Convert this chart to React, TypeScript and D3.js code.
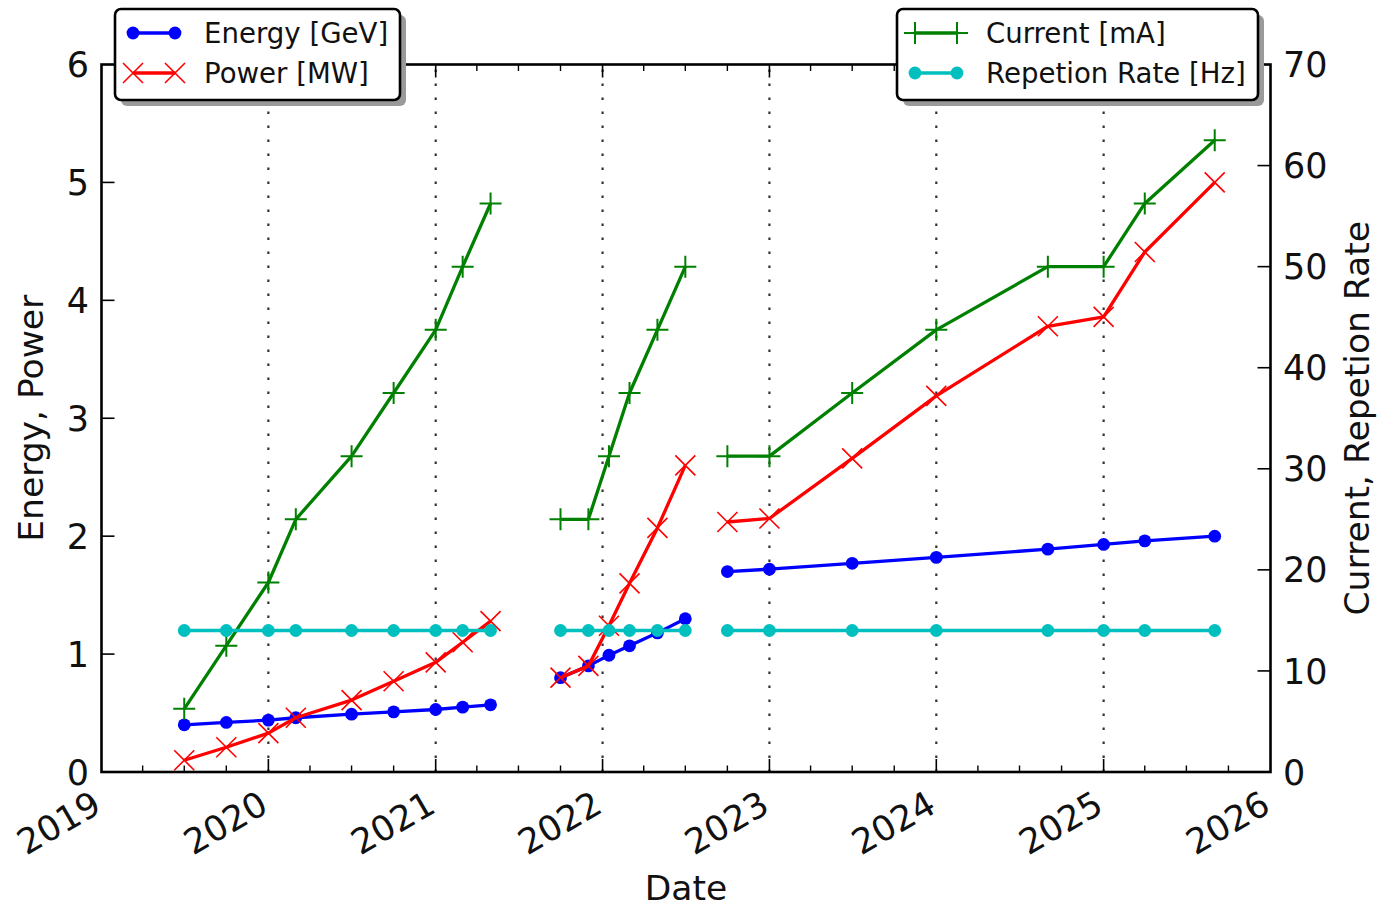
import React, { useEffect, useRef } from 'react';
import * as d3 from 'd3';

// three commissioning phases, separated by gaps in the plot
const phase1Dates = ['2019-07-01', '2019-10-01', '2020-01-01', '2020-03-01', '2020-07-01', '2020-10-01', '2021-01-01', '2021-03-01', '2021-05-01'];
const phase1Energy = [0.4, 0.42, 0.44, 0.46, 0.49, 0.51, 0.53, 0.55, 0.57];
const phase1Power = [0.1, 0.21, 0.33, 0.46, 0.61, 0.77, 0.93, 1.1, 1.28];
const phase1Current = [6.25, 12.5, 18.75, 25, 31.25, 37.5, 43.75, 50, 56.25];
const phase1Rate = [14, 14, 14, 14, 14, 14, 14, 14, 14];

const phase2Dates = ['2021-10-01', '2021-12-01', '2022-01-15', '2022-03-01', '2022-05-01', '2022-07-01'];
const phase2Energy = [0.8, 0.9, 0.99, 1.07, 1.18, 1.3];
const phase2Power = [0.8, 0.9, 1.24, 1.6, 2.07, 2.6];
const phase2Current = [25, 25, 31.25, 37.5, 43.75, 50];
const phase2Rate = [14, 14, 14, 14, 14, 14];

const phase3Dates = ['2022-10-01', '2023-01-01', '2023-07-01', '2024-01-01', '2024-09-01', '2025-01-01', '2025-04-01', '2025-09-01'];
const phase3Energy = [1.7, 1.72, 1.77, 1.82, 1.89, 1.93, 1.96, 2.0];
const phase3Power = [2.12, 2.15, 2.66, 3.19, 3.78, 3.86, 4.41, 5.0];
const phase3Current = [31.25, 31.25, 37.5, 43.75, 50, 50, 56.25, 62.5];
const phase3Rate = [14, 14, 14, 14, 14, 14, 14, 14];

const leftTicks = [0, 1, 2, 3, 4, 5, 6];
const rightTicks = [0, 10, 20, 30, 40, 50, 60, 70];

const FONT = '"DejaVu Sans", sans-serif';
const INK = '#111';

const App: React.FC = () => {
  const svgRef = useRef<SVGSVGElement>(null);

  useEffect(() => {
    document.body.style.margin = '0';
    if (!svgRef.current) return;
    const svg = d3.select(svgRef.current);
    svg.selectAll('*').remove();

    const left = 101.5, right = 1270.5, top = 64.5, bottom = 772;
    const parse = d3.utcParse('%Y-%m-%d');

    const x = d3.scaleUtc()
      .domain([new Date(Date.UTC(2019, 0, 1)), new Date(Date.UTC(2026, 0, 1))])
      .range([left, right]);
    const yL = d3.scaleLinear().domain([0, 6]).range([bottom, top]);
    const yR = d3.scaleLinear().domain([0, 70]).range([bottom, top]);

    const years = x.ticks(d3.utcYear.every(1)!);
    const quarters = x.ticks(d3.utcMonth.every(3)!).filter(d => d.getUTCMonth() !== 0);

    // vertical dotted grid at years
    svg.append('g')
      .selectAll('line')
      .data(years.slice(1, -1))
      .join('line')
      .attr('x1', d => x(d)).attr('x2', d => x(d))
      .attr('y1', bottom).attr('y2', top)
      .attr('stroke', '#333')
      .attr('stroke-width', 2.2)
      .attr('stroke-dasharray', '2.4 11.6');

    const phases = [
      { dates: phase1Dates, energy: phase1Energy, power: phase1Power, current: phase1Current, rate: phase1Rate },
      { dates: phase2Dates, energy: phase2Energy, power: phase2Power, current: phase2Current, rate: phase2Rate },
      { dates: phase3Dates, energy: phase3Energy, power: phase3Power, current: phase3Current, rate: phase3Rate },
    ];

    const series = [
      { key: 'energy', scale: yL, color: '#0000ff', marker: 'circle' },
      { key: 'power', scale: yL, color: '#ff0000', marker: 'x' },
      { key: 'current', scale: yR, color: '#008000', marker: 'plus' },
      { key: 'rate', scale: yR, color: '#00bfbf', marker: 'circle' },
    ];

    const drawMarker = (g: any, marker: string, color: string, px: number, py: number) => {
      if (marker === 'circle') {
        g.append('circle').attr('cx', px).attr('cy', py).attr('r', 6.4).attr('fill', color);
      } else if (marker === 'x') {
        const s = 10;
        g.append('path')
          .attr('d', `M${px - s},${py - s}L${px + s},${py + s}M${px - s},${py + s}L${px + s},${py - s}`)
          .attr('stroke', color).attr('stroke-width', 1.6).attr('fill', 'none');
      } else {
        const s = 11;
        g.append('path')
          .attr('d', `M${px - s},${py}L${px + s},${py}M${px},${py - s}L${px},${py + s}`)
          .attr('stroke', color).attr('stroke-width', 2).attr('fill', 'none');
      }
    };

    const plot = svg.append('g');
    series.forEach(s => {
      phases.forEach(p => {
        const pts = p.dates.map((d, i) => [x(parse(d)!), s.scale((p as any)[s.key][i])] as [number, number]);
        const line = d3.line();
        plot.append('path')
          .attr('d', line(pts))
          .attr('fill', 'none')
          .attr('stroke', s.color)
          .attr('stroke-width', 3.3)
          .attr('stroke-linejoin', 'round');
        pts.forEach(([px, py]) => drawMarker(plot, s.marker, s.color, px, py));
      });
    });

    // frame
    svg.append('rect')
      .attr('x', left).attr('y', top)
      .attr('width', right - left).attr('height', bottom - top)
      .attr('fill', 'none').attr('stroke', '#000').attr('stroke-width', 2.6);

    const ticks = svg.append('g').attr('stroke', '#000');
    years.slice(1, -1).forEach(d => {
      ticks.append('line').attr('x1', x(d)).attr('x2', x(d)).attr('y1', bottom).attr('y2', bottom - 13).attr('stroke-width', 1.6);
      ticks.append('line').attr('x1', x(d)).attr('x2', x(d)).attr('y1', top).attr('y2', top + 13).attr('stroke-width', 1.6);
    });
    quarters.forEach(d => {
      ticks.append('line').attr('x1', x(d)).attr('x2', x(d)).attr('y1', bottom).attr('y2', bottom - 6.5).attr('stroke-width', 1.4);
      ticks.append('line').attr('x1', x(d)).attr('x2', x(d)).attr('y1', top).attr('y2', top + 6.5).attr('stroke-width', 1.4);
    });
    leftTicks.slice(1, -1).forEach(v => {
      ticks.append('line').attr('x1', left).attr('x2', left + 13).attr('y1', yL(v)).attr('y2', yL(v)).attr('stroke-width', 1.6);
    });
    rightTicks.slice(1, -1).forEach(v => {
      ticks.append('line').attr('x1', right).attr('x2', right - 13).attr('y1', yR(v)).attr('y2', yR(v)).attr('stroke-width', 1.6);
    });

    const labels = svg.append('g').attr('font-family', FONT).attr('fill', INK);
    labels.selectAll('text.yl')
      .data(leftTicks)
      .join('text')
      .attr('x', 89).attr('y', d => yL(d)).attr('dy', '0.36em')
      .attr('text-anchor', 'end').attr('font-size', 35)
      .text(d => d);
    labels.selectAll('text.yr')
      .data(rightTicks)
      .join('text')
      .attr('x', 1283).attr('y', d => yR(d)).attr('dy', '0.36em')
      .attr('font-size', 35)
      .text(d => d);
    labels.selectAll('text.xl')
      .data(years)
      .join('text')
      .attr('transform', d => `translate(${x(d) - 11},${789}) rotate(-30)`)
      .attr('dy', '0.73em')
      .attr('text-anchor', 'end').attr('font-size', 35)
      .text(d => d3.utcFormat('%Y')(d));

    labels.append('text')
      .attr('x', (left + right) / 2).attr('y', 900)
      .attr('text-anchor', 'middle').attr('font-size', 34.5)
      .text('Date');
    labels.append('text')
      .attr('transform', `translate(43,${(top + bottom) / 2}) rotate(-90)`)
      .attr('text-anchor', 'middle').attr('font-size', 34.5)
      .text('Energy, Power');
    labels.append('text')
      .attr('transform', `translate(1369,${(top + bottom) / 2}) rotate(-90)`)
      .attr('text-anchor', 'middle').attr('font-size', 34.5)
      .text('Current, Repetion Rate');

    // legends
    const legends = [
      { x0: 115, y0: 9, w: 285, h: 91, items: [series[0], series[1]], names: ['Energy [GeV]', 'Power [MW]'] },
      { x0: 897, y0: 9, w: 361, h: 91, items: [series[2], series[3]], names: ['Current [mA]', 'Repetion Rate [Hz]'] },
    ];
    legends.forEach(l => {
      const g = svg.append('g');
      g.append('rect')
        .attr('x', l.x0 + 6).attr('y', l.y0 + 6).attr('width', l.w).attr('height', l.h)
        .attr('rx', 6).attr('fill', '#9a9a9a');
      g.append('rect')
        .attr('x', l.x0).attr('y', l.y0).attr('width', l.w).attr('height', l.h)
        .attr('rx', 6).attr('fill', '#fff').attr('stroke', '#000').attr('stroke-width', 2.6);
      l.items.forEach((s, i) => {
        const cy = l.y0 + 24 + i * 40;
        const x1 = l.x0 + 18, x2 = l.x0 + 60;
        g.append('line').attr('x1', x1).attr('x2', x2).attr('y1', cy).attr('y2', cy)
          .attr('stroke', s.color).attr('stroke-width', 3.3);
        drawMarker(g, s.marker, s.color, x1, cy);
        drawMarker(g, s.marker, s.color, x2, cy);
        g.append('text')
          .attr('x', l.x0 + 89).attr('y', cy).attr('dy', '0.36em')
          .attr('font-family', FONT).attr('font-size', 27.6).attr('fill', INK)
          .text(l.names[i]);
      });
    });
  }, []);

  return <svg ref={svgRef} width={1377} height={909} style={{ display: 'block', background: '#fff' }} />;
};

export default App;
